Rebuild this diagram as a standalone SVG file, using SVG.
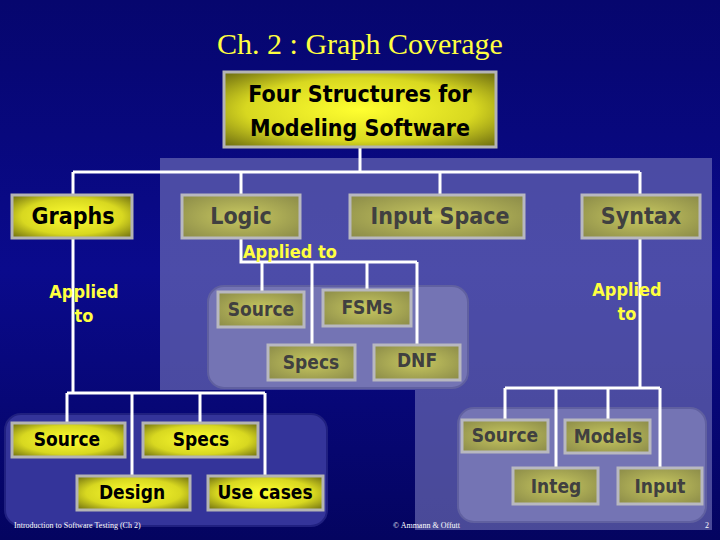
<svg xmlns="http://www.w3.org/2000/svg" width="720" height="540" viewBox="0 0 720 540">
<defs>
<linearGradient id="bg" x1="0" y1="0" x2="0" y2="1"><stop offset="0" stop-color="#06066e"/><stop offset="0.5" stop-color="#0a0a8c"/><stop offset="1" stop-color="#040460"/></linearGradient>
<radialGradient id="yb" cx="0.5" cy="0.5" r="0.7"><stop offset="0" stop-color="#ffff30"/><stop offset="0.6" stop-color="#d8d820"/><stop offset="1" stop-color="#6a6a10"/></radialGradient>
<radialGradient id="db" cx="0.5" cy="0.5" r="0.7"><stop offset="0" stop-color="#c8c860"/><stop offset="1" stop-color="#8a8a48"/></radialGradient>
</defs>
<style>
.b rect{fill:url(#yb);stroke:#b4b4b4;stroke-width:3}
.d rect{fill:url(#db);stroke:#b8b8c0;stroke-width:3}
.b text{font-family:"DejaVu Sans Condensed","DejaVu Sans",sans-serif;font-weight:bold;font-size:19px;fill:#000;text-anchor:middle}
.d text{font-family:"DejaVu Sans Condensed","DejaVu Sans",sans-serif;font-weight:bold;font-size:19px;fill:#404040;text-anchor:middle}
.big text{font-size:23px}
.ap{font-family:"DejaVu Sans Condensed","DejaVu Sans",sans-serif;font-weight:bold;font-size:18px;fill:#ffff40;text-anchor:middle}
.ft{font-family:"Liberation Serif",serif;font-size:8px;fill:#fff}
#conn path{fill:none;stroke:#fff;stroke-width:3}
</style>
<rect width="720" height="540" fill="url(#bg)"/>
<rect x="160" y="158" width="552" height="232" fill="#7878bc" opacity="0.6"/>
<rect x="415" y="390" width="297" height="140" fill="#7878bc" opacity="0.6"/>
<rect x="208" y="286" width="260" height="102" rx="16" fill="#7474b4" stroke="#6060a0" stroke-width="2"/>
<rect x="5" y="414" width="322" height="112" rx="16" fill="#34349a" stroke="#202080" stroke-width="2"/>
<rect x="458" y="408" width="248" height="114" rx="16" fill="#7474b4" stroke="#6060a0" stroke-width="2"/>
<text x="360" y="54" font-family="Liberation Serif,serif" font-size="30" fill="#ffff40" text-anchor="middle">Ch. 2 : Graph Coverage</text>
<g id="conn">
<path d="M360 147V172M73 172H640M73 172V195M241 172V195M440 172V195M640 172V195"/>
<path d="M241 238V262H417M262 262V292M312 262V345M367 262V290M417 262V345"/>
<path d="M73 238V393M67 393H265M67 393V423M132 393V476M200 393V423M265 393V476"/>
<path d="M640 238V388M505 388H660M505 388V420M556 388V468M608 388V420M660 388V468"/>
</g>
<g id="top" class="b big"><rect x="224" y="72" width="272" height="75"/><text x="360" y="102">Four Structures for</text><text x="360" y="136">Modeling Software</text></g>
<g id="graphs" class="b big"><rect x="12" y="195" width="120" height="43"/><text x="73" y="224">Graphs</text></g>
<g id="logic" class="d big"><rect x="182" y="195" width="118" height="43"/><text x="241" y="224">Logic</text></g>
<g id="input-space" class="d big"><rect x="350" y="195" width="174" height="43"/><text x="440" y="224">Input Space</text></g>
<g id="syntax" class="d big"><rect x="582" y="195" width="118" height="43"/><text x="641" y="224">Syntax</text></g>
<text class="ap" x="290" y="258">Applied to</text>
<text class="ap" x="84" y="298">Applied</text><text class="ap" x="84" y="322">to</text>
<text class="ap" x="627" y="296">Applied</text><text class="ap" x="627" y="320">to</text>
<g id="l-source" class="d"><rect x="218" y="292" width="86" height="35"/><text x="261" y="316">Source</text></g>
<g id="l-fsms" class="d"><rect x="323" y="290" width="88" height="36"/><text x="367" y="314">FSMs</text></g>
<g id="l-specs" class="d"><rect x="268" y="345" width="87" height="35"/><text x="311" y="369">Specs</text></g>
<g id="l-dnf" class="d"><rect x="374" y="345" width="86" height="35"/><text x="417" y="367">DNF</text></g>
<g id="g-source" class="b"><rect x="12" y="423" width="113" height="34"/><text x="67" y="446">Source</text></g>
<g id="g-specs" class="b"><rect x="143" y="423" width="115" height="34"/><text x="201" y="446">Specs</text></g>
<g id="g-design" class="b"><rect x="77" y="476" width="113" height="34"/><text x="132" y="499">Design</text></g>
<g id="g-usecases" class="b"><rect x="208" y="476" width="115" height="34"/><text x="265" y="499">Use cases</text></g>
<g id="s-source" class="d"><rect x="462" y="420" width="86" height="32"/><text x="505" y="442">Source</text></g>
<g id="s-models" class="d"><rect x="565" y="420" width="85" height="33"/><text x="608" y="443">Models</text></g>
<g id="s-integ" class="d"><rect x="513" y="468" width="85" height="36"/><text x="556" y="493">Integ</text></g>
<g id="s-input" class="d"><rect x="618" y="468" width="84" height="36"/><text x="660" y="493">Input</text></g>
<text class="ft" x="14" y="528">Introduction to Software Testing (Ch 2)</text>
<text class="ft" x="393" y="528">© Ammann &amp; Offutt</text>
<text class="ft" x="705" y="528">2</text>
</svg>
